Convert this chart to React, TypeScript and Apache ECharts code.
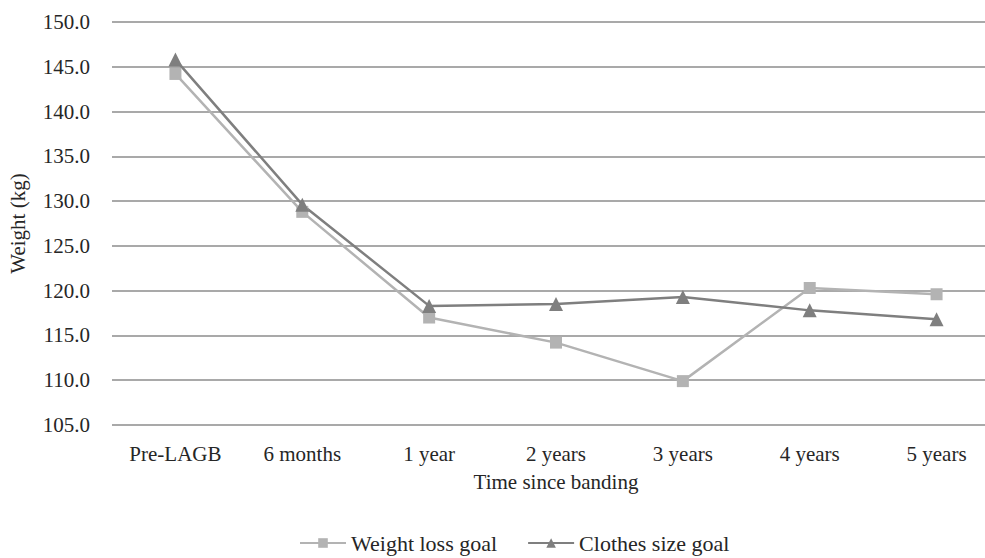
import React, { useEffect, useRef } from "react";
import * as echarts from "echarts";

const categories = ["Pre-LAGB", "6 months", "1 year", "2 years", "3 years", "4 years", "5 years"];
const weightLossGoal = [144.2, 128.8, 117.0, 114.2, 109.9, 120.3, 119.6];
const clothesSizeGoal = [145.8, 129.6, 118.3, 118.5, 119.3, 117.8, 116.8];
const yMin = 105;
const yMax = 150;
const yStep = 5;

const FONT = "Liberation Serif";

export default function App() {
  const ref = useRef<HTMLDivElement>(null);
  useEffect(() => {
    if (!ref.current) return;
    const chart = echarts.init(ref.current, undefined, { renderer: "svg" });
    chart.setOption({
      animation: false,
      backgroundColor: "#ffffff",
      textStyle: { fontFamily: FONT, color: "#262626" },
      grid: {
        left: 112,
        width: 888,
        top: 22,
        bottom: 133,
        containLabel: false,
        outerBoundsMode: "none",
      },
      legend: {
        bottom: -1,
        left: 294,
        itemWidth: 46,
        itemHeight: 12,
        itemGap: 30,
        textStyle: { fontFamily: FONT, fontSize: 22, color: "#262626" },
        data: ["Weight loss goal", "Clothes size goal"],
      },
      xAxis: {
        type: "category",
        data: categories,
        boundaryGap: true,
        name: "Time since banding",
        nameLocation: "middle",
        nameGap: 46,
        nameTextStyle: { fontFamily: FONT, fontSize: 21, color: "#262626" },
        axisLine: { show: false },
        axisTick: { show: false },
        axisLabel: { fontFamily: FONT, fontSize: 21, color: "#262626", margin: 18 },
      },
      yAxis: {
        type: "value",
        min: yMin,
        max: yMax,
        interval: yStep,
        name: "Weight (kg)",
        nameLocation: "middle",
        nameGap: 84,
        nameRotate: 90,
        nameTextStyle: { fontFamily: FONT, fontSize: 21, color: "#262626" },
        axisLine: { show: false },
        axisTick: { show: false },
        axisLabel: {
          fontFamily: FONT,
          fontSize: 21,
          color: "#262626",
          margin: 22,
          formatter: (v: number) => v.toFixed(1),
        },
        splitLine: { show: true, lineStyle: { color: "#8c8c8c", width: 1.5 } },
      },
      series: [
        {
          name: "Weight loss goal",
          type: "line",
          data: weightLossGoal,
          symbol: "rect",
          symbolSize: 12,
          color: "#b3b3b3",
          lineStyle: { color: "#b3b3b3", width: 2.5 },
          itemStyle: { color: "#b3b3b3" },
        },
        {
          name: "Clothes size goal",
          type: "line",
          data: clothesSizeGoal,
          symbol: "triangle",
          symbolSize: 14,
          color: "#7f7f7f",
          lineStyle: { color: "#7f7f7f", width: 2.5 },
          itemStyle: { color: "#7f7f7f" },
        },
      ],
    });
    return () => chart.dispose();
  }, []);
  return <div ref={ref} style={{ width: 985, height: 558, position: "absolute", left: 0, top: 0 }} />;
}
